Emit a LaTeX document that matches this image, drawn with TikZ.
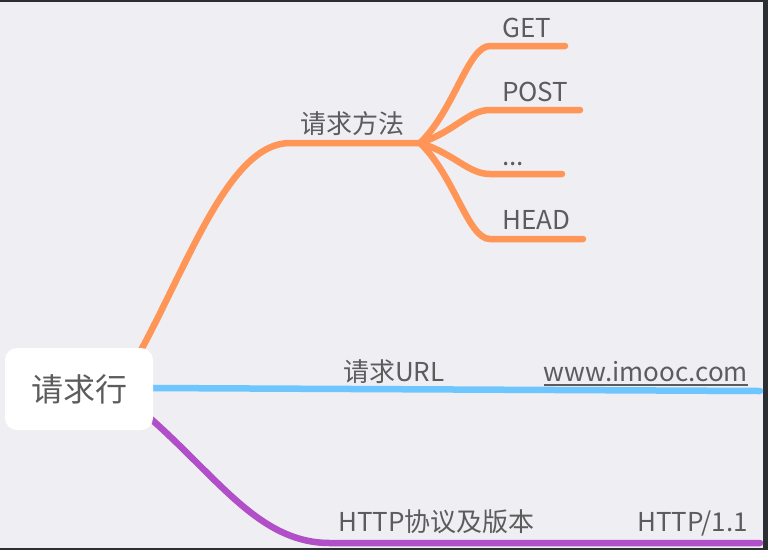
\documentclass[tikz,border=0pt]{standalone}
\usepackage{fontspec}
\setmainfont{Noto Sans CJK SC}
\definecolor{bgc}{HTML}{EFEEF3}
\definecolor{frm}{HTML}{2B2F33}
\definecolor{txt}{HTML}{5C5C5C}
\definecolor{orng}{HTML}{FF9557}
\definecolor{sky}{HTML}{6EC6FF}
\definecolor{plum}{HTML}{B04FC8}
\newcommand\etcdots{...}

\begin{document}
\begin{tikzpicture}[x=1pt, y=-1pt, every node/.style={text=txt, inner sep=0pt, font=\fontsize{26}{30}\selectfont},
	br/.style={line width=6.5pt, line cap=round}, root/.style={fill=white, rounded corners=12pt, minimum width=148pt, minimum height=82pt, font=\fontsize{32}{36}\selectfont}]
	\fill[frm] (0,0) rectangle (768,550);
	\fill[bgc] (0,2) rectangle (763,548);
	\useasboundingbox (0,0) rectangle (768,550);
	% branches first, root on top
	\coordinate (mtha) at (140,352); \coordinate (mthb) at (290,143); \coordinate (fork) at (420,143);
	\draw[br, orng] (mtha) .. controls (190,260) and (230,143) .. (mthb) -- (fork);
	\foreach \nm/\y/\xe in {get/46/565, post/110/580, dots/174/562, head/239/583} {
		\coordinate (\nm s) at (490,\y); \coordinate (\nm e) at (\xe,\y);
		\draw[br, orng] (fork) .. controls (455,{143+0.35*(\y-143)}) and (468,\y) .. (\nm s) -- (\nm e);
	}
	\node[anchor=center] (mth) at (352,124) {请求方法};
	\node[anchor=base west] (get) at (502,37) {GET};
	\node[anchor=base west] (post) at (502,101) {POST};
	\node[anchor=base west] (dots) at (502,165) {\etcdots};
	\node[anchor=base west] (head) at (502,229) {HEAD};
	% url
	\coordinate (urla) at (150,388); \coordinate (urlb) at (760,391);
	\draw[br, sky] (urla) -- (urlb);
	\node[anchor=base west] (url) at (343,381) {请求URL};
	\node[anchor=base east] (site) at (748,381) {www.imooc.com};
	\draw[txt, line width=1.5pt] ([yshift=-4pt]site.base west) -- ([yshift=-4pt]site.base east);
	% version
	\coordinate (vera) at (150,418); \coordinate (verb) at (330,543); \coordinate (verc) at (760,543);
	\draw[br, plum] (vera) .. controls (220,480) and (260,543) .. (verb) -- (verc);
	\node[anchor=base west] (ver) at (338,531) {HTTP协议及版本};
	\node[anchor=base east] (proto) at (748,531) {HTTP/1.1};
	\node[root] (req) at (79,389) {请求行};
\end{tikzpicture}
\end{document}
